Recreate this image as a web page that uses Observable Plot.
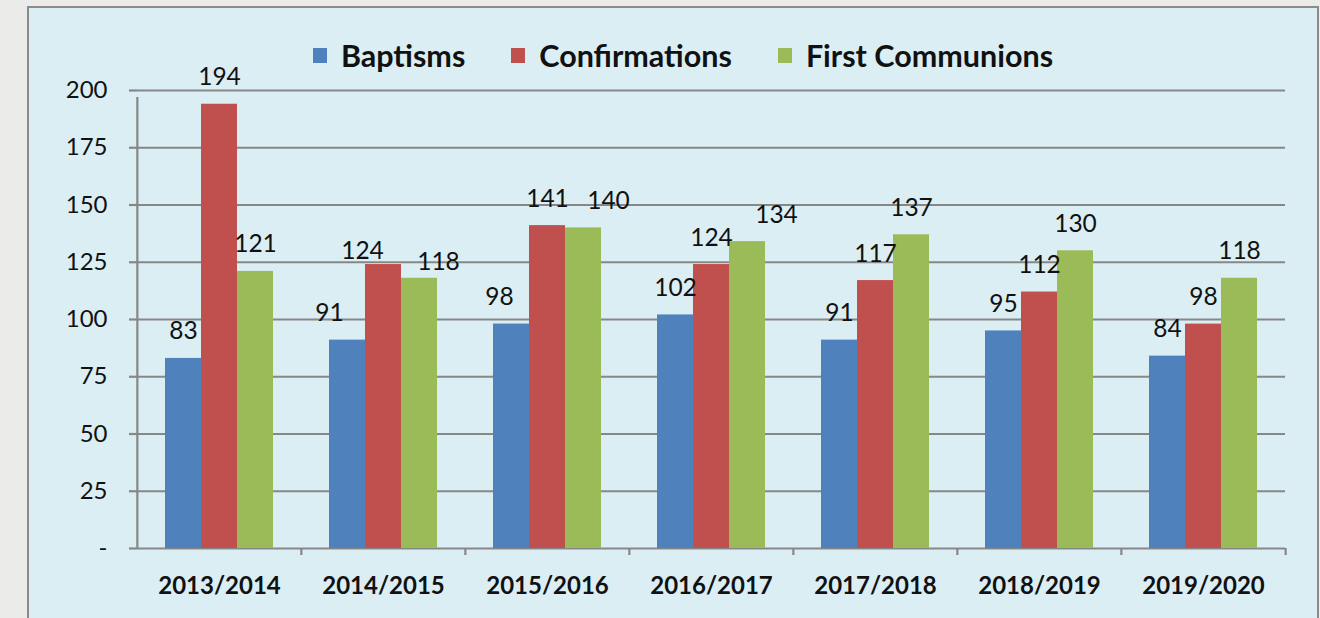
<!DOCTYPE html>
<html>
<head>
<meta charset="utf-8">
<script src="https://cdn.jsdelivr.net/npm/d3@7"></script>
<script src="https://cdn.jsdelivr.net/npm/@observablehq/plot@0.6"></script>
<style>
  html, body { margin: 0; padding: 0; }
  body { width: 1320px; height: 618px; overflow: hidden; position: relative; background: #ebebea; font-family: Lato, "Open Sans", sans-serif; }
  #panel { position: absolute; left: 27px; top: 6px; width: 1292px; height: 640px; box-sizing: border-box; border: 2.5px solid #8b8b8b; background: #dbeef4; }
  #legend { position: absolute; top: 37px; left: 0; width: 1320px; display: flex; justify-content: center; padding-left: 46px; box-sizing: border-box; font-weight: 700; font-size: 30.5px; color: #111; }
  #legend .item { display: flex; align-items: center; margin: 0 23px; }
  #legend .sw { width: 14px; height: 15px; margin-right: 14px; }
  #chart { position: absolute; left: 0; top: 70px; }
</style>
</head>
<body>
<div id="panel"></div>
<div id="legend"></div>
<div id="chart"></div>
<script>
const years = ["2013/2014", "2014/2015", "2015/2016", "2016/2017", "2017/2018", "2018/2019", "2019/2020"];
const series = ["Baptisms", "Confirmations", "First Communions"];
const baptisms = [83, 91, 98, 102, 91, 95, 84];
const confirmations = [194, 124, 141, 124, 117, 112, 98];
const firstCommunions = [121, 118, 140, 134, 137, 130, 118];
const colors = ["#4f81bd", "#c0504d", "#9bbb59"];
const yTicks = [0, 25, 50, 75, 100, 125, 150, 175, 200];

// labels that were moved by hand in the original (text offsets, in pixels)
const labelNudges = [
  {year: "2014/2015", series: "Baptisms", dx: -18, dy: 0},
  {year: "2014/2015", series: "Confirmations", dx: -21, dy: 13},
  {year: "2014/2015", series: "First Communions", dx: 19, dy: 11},
  {year: "2015/2016", series: "Baptisms", dx: -12, dy: 0},
  {year: "2015/2016", series: "First Communions", dx: 25, dy: 0},
  {year: "2016/2017", series: "First Communions", dx: 29, dy: 0}
];

const valuesBySeries = [baptisms, confirmations, firstCommunions];
const rows = [];
years.forEach((year, i) => {
  series.forEach((s, j) => rows.push({year, series: s, value: valuesBySeries[j][i]}));
});

// legend
const legend = document.getElementById("legend");
series.forEach((s, j) => {
  const item = document.createElement("div");
  item.className = "item";
  const sw = document.createElement("span");
  sw.className = "sw";
  sw.style.background = colors[j];
  const label = document.createElement("span");
  label.textContent = s;
  item.append(sw, label);
  legend.append(item);
});

const W = 1320, H = 540;
const mL = 136, mR = 34, mT = 20, mB = 62;
const bw = (W - mL - mR) / years.length;
const grid = "#878787";
const labelBaseDy = -19;
const labelOpts = {fx: "year", x: "series", y: "value", text: d => String(d.value), lineAnchor: "bottom", fontSize: 24.5, fill: "#111"};

const isNudged = d => labelNudges.some(n => n.year === d.year && n.series === d.series);
const labelMarks = [
  Plot.text(rows.filter(d => !isNudged(d)), {...labelOpts, dy: labelBaseDy}),
  ...labelNudges.map(n => Plot.text(rows.filter(d => d.year === n.year && d.series === n.series), {...labelOpts, dx: n.dx, dy: labelBaseDy + n.dy}))
];

const chart = Plot.plot({
  width: W,
  height: H,
  marginLeft: mL,
  marginRight: mR,
  marginTop: mT,
  marginBottom: mB,
  style: {background: "transparent", fontFamily: "Lato, 'Open Sans', sans-serif", color: "#111", overflow: "visible"},
  fx: {domain: years, padding: 0, label: null},
  x: {domain: series, paddingInner: 0, paddingOuter: 0.736, axis: null},
  y: {domain: [0, 200], label: null},
  color: {domain: series, range: colors},
  marks: [
    Plot.ruleY(yTicks, {stroke: grid, strokeWidth: 2.2}),
    Plot.barY(rows, {fx: "year", x: "series", y: "value", fill: "series"}),
    Plot.ruleX([years[0]], {fx: d => d, x: null, y1: 0, y2: 200, dx: -bw / 2, insetBottom: -7, stroke: grid, strokeWidth: 2.2}),
    Plot.ruleX(years.slice(1), {fx: d => d, x: null, y1: 0, y2: 0, dx: -bw / 2, insetBottom: -7, stroke: grid, strokeWidth: 2.2}),
    Plot.ruleX([years[years.length - 1]], {fx: d => d, x: null, y1: 0, y2: 0, dx: bw / 2, insetBottom: -7, stroke: grid, strokeWidth: 2.2}),
    ...labelMarks,
    Plot.axisY({ticks: yTicks, tickSize: 8, tickPadding: 22, tickFormat: d => d === 0 ? "-" : String(d), fontSize: 24, stroke: grid, strokeWidth: 2.2, label: null}),
    Plot.axisFx({anchor: "bottom", tickSize: 0, tickPadding: 28, fontSize: 24, fontWeight: "bold", label: null})
  ]
});
document.getElementById("chart").append(chart);
</script>
</body>
</html>
